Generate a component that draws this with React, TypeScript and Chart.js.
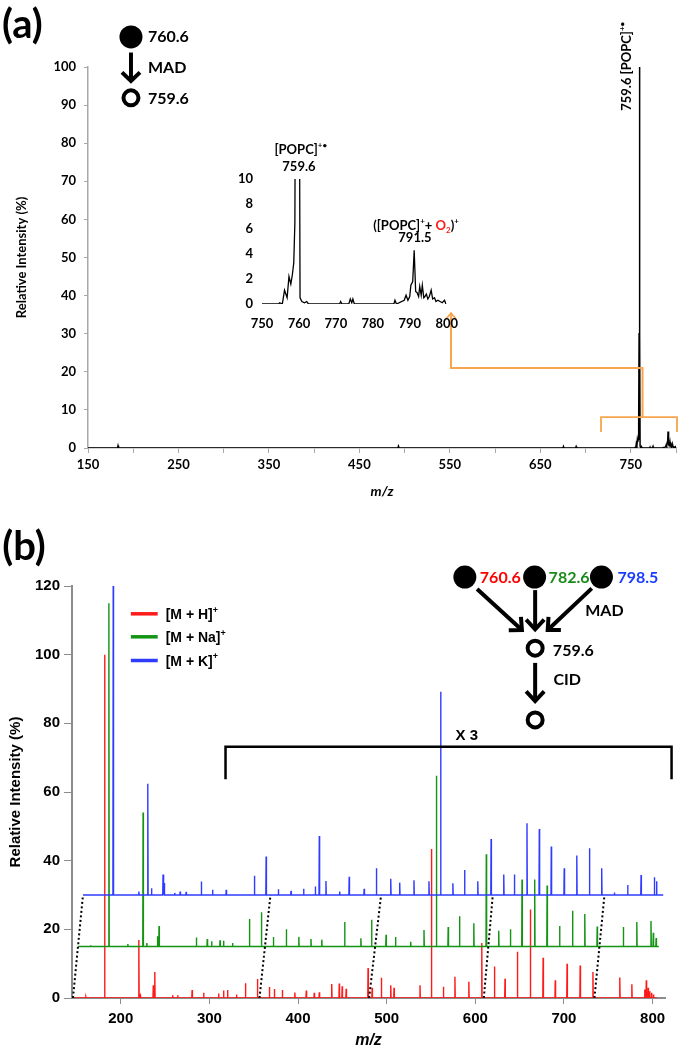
import React, { useEffect, useRef } from 'react';
import { Chart, registerables } from 'chart.js';

Chart.register(...registerables);

// ---------------- Panel (a): MAD spectrum of POPC [m/z, relative intensity %] ----------------
const popcSpectrum: [number, number][] = [
  [150, 0], [182.6, 0], [183.2, 0.6], [183.8, 0],
  [492.5, 0], [493.2, 0.5], [493.9, 0],
  [675, 0], [675.6, 0.4], [676.2, 0], [689, 0], [689.6, 0.4], [690.2, 0],
  [754.5, 0], [754.8, 0.1], [755.5, 0], [756.1, 1.1], [756.8, 0.5], [757.3, 2.2], [757.8, 1.6],
  [758.2, 2.3], [758.6, 3.3], [758.9, 6.5], [759.2, 30], [759.6, 100], [760.0, 30], [760.3, 0.5],
  [760.8, 0.2], [761.5, 0.1], [762.1, 0.2], [762.6, 0], [771.0, 0], [771.3, 0.2], [771.6, 0],
  [773.5, 0], [773.9, 0.4], [774.3, 0.1], [774.6, 0.4], [775.0, 0], [785.7, 0], [786.0, 0.3],
  [786.4, 0], [788.5, 0.3], [789.0, 0.7], [789.5, 0.3], [790.0, 0.6], [790.3, 1.5], [790.8, 1.8],
  [791.2, 4.3], [791.6, 1.0], [792.0, 0.9], [792.4, 0.6], [792.7, 1.4], [793.1, 0.7], [793.4, 1.5],
  [793.8, 0.5], [794.1, 0.6], [794.5, 0.8], [794.9, 0.4], [795.3, 0.6], [795.8, 1.1], [796.2, 0.4],
  [796.7, 0.5], [797.1, 0.2], [797.6, 0.3], [798.2, 0.2], [798.8, 0.1], [799.4, 0.3], [799.8, 0],
];
const aTickValues = [150, 200, 250, 300, 350, 400, 450, 500, 550, 600, 650, 700, 750, 800];
const aTickLabels = [150, 250, 350, 450, 550, 650, 750];
const insetTickValues = [750, 760, 770, 780, 790, 800];

// ---------------- Panel (b): CID spectra [m/z, intensity above own baseline] ----------------
const mhPeaks: [number, number][] = [
  [160.7, 0.3], [181.8, 100], [220.4, 16.9], [222, 0.8], [236.7, 3.7], [238.4, 7.6], [258.6, 0.8],
  [264.2, 0.8], [280.5, 2.3], [293.5, 1.5], [310.4, 1.3], [316, 2.2], [320.5, 2.3], [330.6, 1],
  [340.7, 4.3], [354.2, 5.5], [367.7, 3.2], [373.3, 2.6], [382.3, 2.3], [396.4, 1.6], [409.3, 2.2],
  [418.3, 1.5], [424, 1.7], [438, 4.1], [446.5, 4.2], [449.8, 3.4], [454.3, 2.7], [479, 8.7],
  [483.6, 3], [494, 5.9], [504.6, 3.7], [508.3, 3], [537.6, 3.7], [550.5, 43.4], [564, 3.3],
  [577, 6.2], [592.7, 4.7], [607.3, 16], [621.6, 9.2], [633.5, 5.6], [647.5, 13.5], [662.1, 25.8],
  [676.5, 11.7], [690.2, 5.2], [703.5, 10], [718.3, 9.5], [732.7, 7.6], [763, 6], [776.6, 4],
  [791, 2.5], [792.9, 5.2], [795, 3], [796.8, 2], [799, 1.5], [801, 1],
];
const mnaPeaks: [number, number][] = [
  [166, 0.4], [186.6, 100], [208, 0.7], [225.2, 39], [229.4, 1], [241.4, 3], [243.2, 6], [285.3, 2.6],
  [297.6, 2.2], [302.5, 1.5], [312, 1.8], [316, 1.7], [326.1, 1], [345.2, 8], [358.7, 10], [372.2, 2.8],
  [386.8, 5], [400.9, 2.8], [414.6, 2.2], [426.8, 2], [452.6, 7.1], [470.9, 2.4], [483, 7.8],
  [499.3, 3.4], [510, 2.8], [527.1, 1.4], [542.1, 4.8], [556.1, 49.7], [569.4, 5.7], [582.2, 8.8],
  [598.3, 6.8], [612.4, 26.9], [626.4, 4.6], [639.6, 5], [652.7, 19.5], [667, 19.5], [681, 17.8],
  [695.1, 6], [709.7, 10.4], [723.5, 9.5], [737.5, 5.8], [767, 5.7], [782.2, 7.1], [798.2, 7.4],
  [800.8, 4], [804, 2.5],
];
const mkPeaks: [number, number][] = [
  [191.5, 90], [220.4, 1], [230.5, 32.4], [234.7, 2], [247.7, 6], [249, 3.5], [260.9, 0.6], [267, 1],
  [273.8, 0.9], [290.9, 3.9], [303.6, 1.5], [319, 1.5], [350.8, 5.6], [364, 11.2], [377.8, 1.7],
  [392.1, 1.2], [406.3, 1.8], [419.5, 2.5], [424, 17.2], [431.5, 4.1], [447, 1], [457.7, 5.3],
  [474.6, 1.8], [488.4, 7.8], [504.6, 4.7], [514.7, 3.6], [530.8, 4.3], [547.7, 4], [560.9, 59.2],
  [574.7, 3.4], [587.9, 7.3], [602.8, 4], [617.8, 16.3], [632.1, 6], [644.1, 6], [658.3, 20.9],
  [672.2, 19.2], [685.7, 14.1], [700.3, 7.8], [714.5, 11.5], [728.8, 13.6], [742.6, 7.8],
  [756.9, 0.7], [771.9, 2.9], [787, 5.8], [802, 5.2], [804.5, 4],
];
const seriesNames = ['[M + H]', '[M + Na]', '[M + K]'];
const seriesOffsets = [0, 15, 30];
const seriesStart = [146, 152, 157.4];
const seriesEnd = [805, 807, 812];
const dotFromMz = [146.1, 356.5, 480.2, 609.6, 734.4];
const dotToMz = [157.4, 368.9, 493.7, 619.7, 745.7];
const bTickValues = [200, 300, 400, 500, 600, 700, 800];

// ---------------- styles ----------------
const LATO = 'Lato, "Open Sans", sans-serif';
const ARIAL = '"Liberation Sans", Arial, sans-serif';
const RED = '#ff1a1a';
const GREEN = '#139413';
const BLUE = '#2f3cff';
const ORANGE = '#f8a54f';
const seriesColors = [RED, GREEN, BLUE];
const labelColors = ['#ff0000', '#1a8a1a', '#1a3cff'];

type Part = { t: string; sup?: boolean; sub?: boolean; color?: string };

function drawRich(ctx: CanvasRenderingContext2D, parts: Part[], x: number, y: number, size: number,
  family: string, align: 'left' | 'center' | 'right', style = '') {
  const fontFor = (p: Part) => `${style} bold ${p.sup || p.sub ? Math.round(size * 0.62) : size}px ${family}`;
  let w = 0;
  for (const p of parts) { ctx.font = fontFor(p); w += ctx.measureText(p.t).width; }
  let cx = align === 'center' ? x - w / 2 : align === 'right' ? x - w : x;
  ctx.textAlign = 'left';
  ctx.textBaseline = 'alphabetic';
  const base = y + size * 0.36;
  for (const p of parts) {
    ctx.font = fontFor(p);
    ctx.fillStyle = p.color || '#000';
    const dy = p.sup ? -size * 0.45 : p.sub ? size * 0.2 : 0;
    ctx.fillText(p.t, cx, base + dy);
    cx += ctx.measureText(p.t).width;
  }
}

function drawArrow(ctx: CanvasRenderingContext2D, x1: number, y1: number, x2: number, y2: number,
  lw: number, hl: number, hw: number, color = '#000') {
  const dx = x2 - x1, dy = y2 - y1, L = Math.hypot(dx, dy), ux = dx / L, uy = dy / L;
  const px = -uy, py = ux;
  ctx.strokeStyle = color;
  ctx.lineWidth = lw;
  ctx.lineCap = 'butt';
  ctx.lineJoin = 'miter';
  ctx.beginPath();
  ctx.moveTo(x1, y1);
  ctx.lineTo(x2 - ux * lw * 0.8, y2 - uy * lw * 0.8);
  ctx.stroke();
  ctx.beginPath();
  ctx.moveTo(x2 - ux * hl + px * hw, y2 - uy * hl + py * hw);
  ctx.lineTo(x2 - ux * lw * 0.6, y2 - uy * lw * 0.6);
  ctx.lineTo(x2 - ux * hl - px * hw, y2 - uy * hl - py * hw);
  ctx.stroke();
}

function sticks(peaks: [number, number][], base: number, start: number, end: number) {
  const pts = [{ x: start, y: base }];
  peaks.forEach(([m, h]) => {
    pts.push({ x: m - 0.35, y: base }, { x: m, y: base + h }, { x: m + 0.35, y: base });
  });
  pts.push({ x: end, y: base });
  return pts;
}

const annotA = {
  id: 'annotA',
  afterDatasetsDraw(chart: any) {
    const { ctx, scales: { x, y } } = chart;
    const X = (v: number) => x.getPixelForValue(v);
    const Y = (v: number) => y.getPixelForValue(v);
    ctx.save();
    ctx.fillStyle = '#000';
    ctx.font = `bold 40px ${LATO}`;
    ctx.textAlign = 'left';
    ctx.textBaseline = 'middle';
    ctx.fillText('(a)', X(54.9), Y(111));
    // MAD scheme
    const cx = X(197.5);
    ctx.beginPath(); ctx.arc(cx, Y(107.9), 11.5, 0, Math.PI * 2); ctx.fill();
    drawRich(ctx, [{ t: '760.6' }], X(216.3), Y(108), 16, LATO, 'left');
    drawArrow(ctx, cx, Y(103.8), cx, Y(95.7), 4, 11, 9);
    drawRich(ctx, [{ t: 'MAD' }], X(216.3), Y(100), 16, LATO, 'left');
    ctx.beginPath(); ctx.arc(cx, Y(91.9), 7.5, 0, Math.PI * 2);
    ctx.lineWidth = 4; ctx.strokeStyle = '#000'; ctx.stroke();
    drawRich(ctx, [{ t: '759.6' }], X(216.3), Y(91.9), 16, LATO, 'left');
    // rotated peak label
    ctx.save();
    ctx.translate(X(750.3), Y(88.5));
    ctx.rotate(-Math.PI / 2);
    drawRich(ctx, [{ t: '759.6 [POPC]' }, { t: '+•', sup: true }], 0, -13 * 0.36, 13, LATO, 'left');
    ctx.restore();
    // orange connectors
    ctx.strokeStyle = ORANGE;
    ctx.lineWidth = 2;
    ctx.lineJoin = 'miter';
    ctx.beginPath();
    ctx.moveTo(X(551.3), Y(34.5));
    ctx.lineTo(X(551.3), Y(21));
    ctx.lineTo(X(763), Y(21));
    ctx.lineTo(X(763), Y(8.1));
    ctx.stroke();
    drawArrow(ctx, X(551.3), Y(30), X(551.3), Y(35.7), 1.8, 7, 5, ORANGE);
    ctx.beginPath();
    ctx.moveTo(X(717.1), Y(4.2));
    ctx.lineTo(X(717.1), Y(8.1));
    ctx.lineTo(X(801.1), Y(8.1));
    ctx.lineTo(X(801.1), Y(4.2));
    ctx.stroke();
    ctx.restore();
  },
};

const annotInset = {
  id: 'annotInset',
  afterDatasetsDraw(chart: any) {
    const { ctx, scales: { x, y } } = chart;
    const X = (v: number) => x.getPixelForValue(v);
    const Y = (v: number) => y.getPixelForValue(v);
    ctx.save();
    drawRich(ctx, [{ t: '[POPC]' }, { t: '+•', sup: true }], X(760.5), Y(12.4), 13, LATO, 'center');
    drawRich(ctx, [{ t: '759.6' }], X(760.0), Y(11.0), 13, LATO, 'center');
    drawRich(ctx, [{ t: '([POPC]' }, { t: '+', sup: true }, { t: '+ ' }, { t: 'O', color: RED },
      { t: '2', sub: true, color: RED }, { t: ')' }, { t: '+', sup: true }], X(791.7), Y(6.3), 13, LATO, 'center');
    drawRich(ctx, [{ t: '791.5' }], X(791.4), Y(5.3), 13, LATO, 'center');
    ctx.restore();
  },
};

const annotB = {
  id: 'annotB',
  afterDatasetsDraw(chart: any) {
    const { ctx, scales: { x, y } } = chart;
    const X = (v: number) => x.getPixelForValue(v);
    const Y = (v: number) => y.getPixelForValue(v);
    ctx.save();
    ctx.fillStyle = '#000';
    ctx.font = `bold 40px ${LATO}`;
    ctx.textAlign = 'left';
    ctx.textBaseline = 'middle';
    ctx.fillText('(b)', X(66.3), Y(131.4));
    // legend
    const legendY = [111.9, 105.2, 98.3];
    seriesNames.forEach((name, i) => {
      const yy = Y(legendY[i]);
      ctx.strokeStyle = seriesColors[i];
      ctx.lineWidth = 3.5;
      ctx.lineCap = 'butt';
      ctx.beginPath(); ctx.moveTo(X(211.4), yy); ctx.lineTo(X(241.7), yy); ctx.stroke();
      drawRich(ctx, [{ t: name }, { t: '+', sup: true }], X(250.7), yy, 14, ARIAL, 'left');
    });
    // MAD / CID scheme
    const precursorX = [588.2, 666.9, 742.3];
    const precursorLabelX = [605.1, 682.7, 760.3];
    const precursorLabels = ['760.6', '782.6', '798.5'];
    precursorX.forEach((px, i) => {
      ctx.fillStyle = '#000';
      ctx.beginPath(); ctx.arc(X(px), Y(122.6), 11.5, 0, Math.PI * 2); ctx.fill();
      drawRich(ctx, [{ t: precursorLabels[i], color: labelColors[i] }], X(precursorLabelX[i]), Y(122.6), 16, LATO, 'left');
    });
    const midX = 667.5;
    drawArrow(ctx, X(602), Y(119.1), X(654.6), Y(106.7), 4, 12, 9);
    drawArrow(ctx, X(midX), Y(118.8), X(midX), Y(106.7), 4, 12, 9);
    drawArrow(ctx, X(731.4), Y(119.3), X(679.7), Y(106.7), 4, 12, 9);
    drawRich(ctx, [{ t: 'MAD' }], X(724), Y(112.8), 16, LATO, 'left');
    ctx.strokeStyle = '#000'; ctx.lineWidth = 4;
    ctx.beginPath(); ctx.arc(X(midX), Y(101.9), 7.5, 0, Math.PI * 2); ctx.stroke();
    drawRich(ctx, [{ t: '759.6' }], X(687.5), Y(101.4), 16, LATO, 'left');
    drawArrow(ctx, X(midX), Y(97.6), X(midX), Y(85.8), 4, 12, 9);
    drawRich(ctx, [{ t: 'CID' }], X(688.1), Y(92.9), 16, LATO, 'left');
    ctx.strokeStyle = '#000'; ctx.lineWidth = 4;
    ctx.beginPath(); ctx.arc(X(midX), Y(81), 7.5, 0, Math.PI * 2); ctx.stroke();
    // x3 bracket
    ctx.lineWidth = 2.5;
    ctx.lineJoin = 'miter';
    ctx.beginPath();
    ctx.moveTo(X(318.2), Y(63.7));
    ctx.lineTo(X(318.2), Y(73.2));
    ctx.lineTo(X(821.4), Y(73.2));
    ctx.lineTo(X(821.4), Y(63.7));
    ctx.stroke();
    drawRich(ctx, [{ t: 'X 3' }], X(590.4), Y(76.6), 15, ARIAL, 'center');
    ctx.restore();
  },
};

function makeA(canvas: HTMLCanvasElement) {
  const tickFont = { family: LATO, weight: 'bold' as const, size: 13 };
  return new Chart(canvas, {
    type: 'line',
    data: {
      datasets: [{
        data: popcSpectrum.map(([m, v]) => ({ x: m, y: v })),
        borderColor: '#000', borderWidth: 1.5, pointRadius: 0, tension: 0,
      }],
    },
    options: {
      animation: false, responsive: false,
      layout: { padding: { top: 67, right: 24, left: 0, bottom: 0 } },
      plugins: { legend: { display: false }, tooltip: { enabled: false } },
      scales: {
        x: {
          type: 'linear', min: 150, max: 800,
          afterBuildTicks: (s: any) => { s.ticks = aTickValues.map((v) => ({ value: v })); },
          ticks: {
            autoSkip: false, maxRotation: 0, font: tickFont, color: '#000', padding: 4,
            callback: (v: any) => (aTickLabels.includes(Number(v)) ? String(v) : ''),
          },
          grid: { display: true, drawOnChartArea: false, drawTicks: true, tickLength: 5, color: '#a8a8a8' },
          border: { display: true, color: '#a8a8a8', width: 1.5 },
          title: { display: true, text: 'm/z', color: '#000', font: { family: LATO, weight: 'bold', style: 'italic', size: 14 }, padding: { top: 0, bottom: 5 } },
          afterFit: (s: any) => { s.height = 57; },
        },
        y: {
          min: 0, max: 100,
          ticks: { stepSize: 10, font: tickFont, color: '#000', padding: 8 },
          grid: { display: true, drawOnChartArea: false, drawTicks: true, tickLength: 4, color: '#a8a8a8' },
          border: { display: true, color: '#a8a8a8', width: 1.5 },
          title: { display: true, text: 'Relative Intensity (%)', color: '#000', font: { family: LATO, weight: 'bold', size: 13 }, padding: { top: 14, bottom: 0 } },
          afterFit: (s: any) => { s.width = 88; },
        },
      },
    },
    plugins: [annotA],
  });
}

function makeInset(canvas: HTMLCanvasElement) {
  const tickFont = { family: LATO, weight: 'bold' as const, size: 13 };
  return new Chart(canvas, {
    type: 'line',
    data: {
      datasets: [{
        data: popcSpectrum.map(([m, v]) => ({ x: m, y: v })),
        borderColor: '#000', borderWidth: 1.3, pointRadius: 0, tension: 0,
      }],
    },
    options: {
      animation: false, responsive: false,
      layout: { padding: { top: 49, right: 21, left: 0, bottom: 0 } },
      plugins: { legend: { display: false }, tooltip: { enabled: false } },
      scales: {
        x: {
          type: 'linear', min: 750, max: 800,
          afterBuildTicks: (s: any) => { s.ticks = insetTickValues.map((v) => ({ value: v })); },
          ticks: { autoSkip: false, maxRotation: 0, font: tickFont, color: '#000', padding: 12 },
          grid: { display: false, drawTicks: false },
          border: { display: false },
          afterFit: (s: any) => { s.height = 36; },
        },
        y: {
          min: 0, max: 10,
          ticks: { stepSize: 2, font: tickFont, color: '#000', padding: 9 },
          grid: { display: false, drawTicks: false },
          border: { display: false },
          afterFit: (s: any) => { s.width = 42; },
        },
      },
    },
    plugins: [annotInset],
  });
}

function makeB(canvas: HTMLCanvasElement) {
  const tickFont = { family: ARIAL, weight: 'bold' as const, size: 15 };
  const peakSets = [mhPeaks, mnaPeaks, mkPeaks];
  const spectra = peakSets.map((peaks, i) => ({
    data: sticks(peaks, seriesOffsets[i], seriesStart[i], seriesEnd[i]),
    borderColor: seriesColors[i], borderWidth: 1.4, pointRadius: 0, tension: 0, order: 3 - i,
  }));
  const dots = dotFromMz.map((m, i) => ({
    data: [{ x: m, y: seriesOffsets[0] }, { x: dotToMz[i], y: seriesOffsets[2] }],
    borderColor: '#000', borderWidth: 2, borderDash: [2, 2.5], pointRadius: 0, tension: 0, order: 0,
  }));
  return new Chart(canvas, {
    type: 'line',
    data: { datasets: [...spectra, ...dots] as any },
    options: {
      animation: false, responsive: false,
      layout: { padding: { top: 81, right: 35, left: 0, bottom: 0 } },
      plugins: { legend: { display: false }, tooltip: { enabled: false } },
      scales: {
        x: {
          type: 'linear', min: 145, max: 814,
          afterBuildTicks: (s: any) => { s.ticks = bTickValues.map((v) => ({ value: v })); },
          ticks: { autoSkip: false, maxRotation: 0, font: tickFont, color: '#000', padding: 6 },
          grid: { display: true, drawOnChartArea: false, drawTicks: true, tickLength: 6, color: '#8c8c8c' },
          border: { display: true, color: '#8c8c8c', width: 2 },
          title: { display: true, text: 'm/z', color: '#000', font: { family: ARIAL, weight: 'bold', style: 'italic', size: 16 }, padding: { top: 0, bottom: 0 } },
          afterFit: (s: any) => { s.height = 52; },
        },
        y: {
          min: 0, max: 120,
          ticks: { stepSize: 20, font: tickFont, color: '#000', padding: 4 },
          grid: { display: true, drawOnChartArea: false, drawTicks: true, tickLength: 8, color: '#8c8c8c' },
          border: { display: true, color: '#8c8c8c', width: 2 },
          title: { display: true, text: 'Relative Intensity (%)', color: '#000', font: { family: ARIAL, weight: 'bold', size: 15 }, padding: { top: 7, bottom: 0 } },
          afterFit: (s: any) => { s.width = 72; },
        },
      },
    },
    plugins: [annotB],
  });
}

export default function App() {
  const aRef = useRef<HTMLCanvasElement>(null);
  const insetRef = useRef<HTMLCanvasElement>(null);
  const bRef = useRef<HTMLCanvasElement>(null);
  useEffect(() => {
    const charts = [makeA(aRef.current!), makeInset(insetRef.current!), makeB(bRef.current!)];
    return () => charts.forEach((c) => c.destroy());
  }, []);
  return (
    <div style={{ position: 'absolute', left: 0, top: 0, width: 700, height: 1050, background: '#fff' }}>
      <canvas ref={aRef} width={700} height={505} style={{ position: 'absolute', left: 0, top: 0 }} />
      <canvas ref={insetRef} width={250} height={210} style={{ position: 'absolute', left: 220, top: 130 }} />
      <canvas ref={bRef} width={700} height={545} style={{ position: 'absolute', left: 0, top: 505 }} />
    </div>
  );
}
